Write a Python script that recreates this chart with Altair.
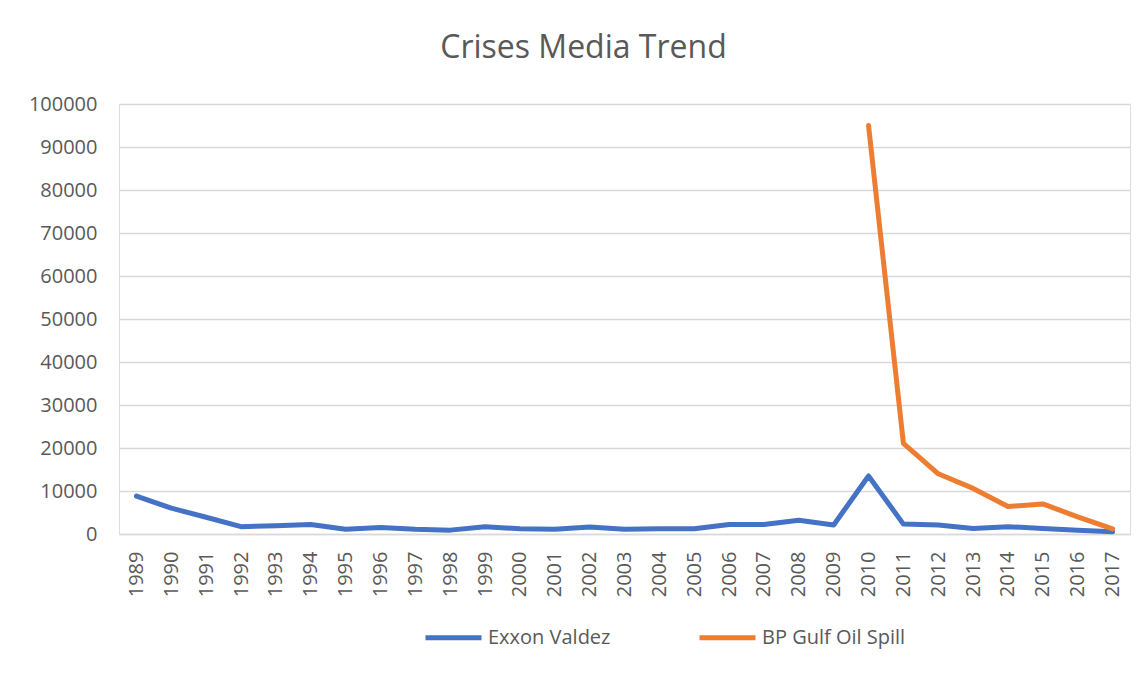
import altair as alt
import pandas as pd

years = list(range(1989, 2018))
exxon = [8800, 6000, 3900, 1700, 1900, 2200, 1100, 1500, 1100, 900,
         1700, 1200, 1100, 1600, 1100, 1200, 1200, 2200, 2200, 3200,
         2100, 13500, 2300, 2100, 1300, 1700, 1300, 900, 500]
bp_years = list(range(2010, 2018))
bp = [95000, 21100, 14000, 10600, 6400, 7000, 4000, 1200]

series_names = ["Exxon Valdez", "BP Gulf Oil Spill"]
colors = ["#4472C4", "#ED7D31"]

rows = [{"year": str(y), "value": v, "series": series_names[0]} for y, v in zip(years, exxon)]
rows += [{"year": str(y), "value": v, "series": series_names[1]} for y, v in zip(bp_years, bp)]
df = pd.DataFrame(rows)

font = "Open Sans"
grey = "#595959"

chart = alt.Chart(df).mark_line(strokeWidth=5, strokeCap="round", strokeJoin="round").encode(
    x=alt.X("year:O", sort=[str(y) for y in years],
            scale=alt.Scale(domain=[str(y) for y in years], padding=0.5),
            axis=alt.Axis(title=None, labelAngle=-90, labelPadding=17, labelFontSize=20,
                          labelFont=font, labelColor=grey, ticks=False, domainColor="#D9D9D9",
                          domainWidth=1.5, grid=False)),
    y=alt.Y("value:Q", scale=alt.Scale(domain=[0, 100000], nice=False),
            axis=alt.Axis(title=None, values=list(range(0, 100001, 10000)), format="d",
                          labelFontSize=20, labelFont=font, labelColor=grey, labelPadding=22,
                          ticks=False, domain=False, gridColor="#D9D9D9", gridWidth=1.5)),
    color=alt.Color("series:N", sort=series_names,
                    scale=alt.Scale(domain=series_names, range=colors),
                    legend=alt.Legend(title=None, orient="none", direction="horizontal",
                                      legendX=304, legendY=503, symbolType="stroke",
                                      symbolSize=3136, symbolStrokeWidth=5,
                                      labelFont=font, labelFontSize=20, labelColor=grey,
                                      labelOffset=4, columnPadding=78)),
).properties(
    width=1011, height=430,
    title=alt.TitleParams("Crises Media Trend", font=font, fontSize=32, fontWeight="normal",
                          color=grey, anchor="middle", dx=-41, offset=4,
                          baseline="alphabetic"),
    autosize=alt.AutoSizeParams(type="none"),
    padding={"left": 111, "top": 96, "right": 7, "bottom": 132},
).configure_view(stroke=None).configure(background="white")

chart.save("out.html", embed_options={"renderer": "svg", "actions": False})
